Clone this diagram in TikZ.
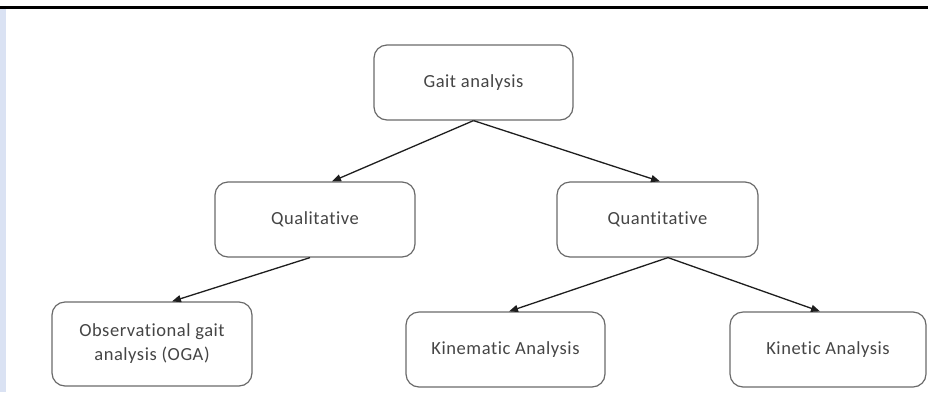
\documentclass[tikz,border=0pt]{standalone}
\usepackage{fontspec}
\setmainfont{Carlito}[RawFeature={-liga;-clig}, LetterSpace=3]
\usetikzlibrary{arrows.meta}
\definecolor{boxline}{HTML}{6A6A6A}
\definecolor{txt}{HTML}{454545}
\definecolor{strip}{HTML}{DAE2F3}
\definecolor{arr}{HTML}{1E1E1E}
\tikzset{
  box/.style={draw=boxline, line width=1.2pt, rounded corners=13pt, fill=white,
    inner sep=0pt, text=txt, align=center,
    font=\fontsize{18.5}{24}\selectfont},
  link/.style={draw=arr, line width=1.3pt, -{Triangle[length=9pt,width=7pt]}}
}
\begin{document}
\begin{tikzpicture}[x=1pt,y=-1pt]
\useasboundingbox (0,0) rectangle (928,392);
\fill[white] (0,0) rectangle (928,392);
\fill[strip] (0,9) rectangle (6,392);
\draw[line width=2.8pt, black] (0,7.5) -- (928,7.5);

\node[box, minimum width=199pt, minimum height=75pt] (gait) at (473.5,82.5) {Gait analysis};
\node[box, minimum width=200pt, minimum height=75pt] (qual) at (315,219.5) {Qualitative};
\node[box, minimum width=201pt, minimum height=75pt] (quant) at (657.5,219.5) {Quantitative};
\node[box, minimum width=200pt, minimum height=84pt] (oga) at (152,344) {Observational gait\\analysis (OGA)};
\node[box, minimum width=199pt, minimum height=75pt] (kinem) at (505.5,349.5) {Kinematic Analysis};
\node[box, minimum width=196pt, minimum height=75pt] (kinet) at (828,349.5) {Kinetic Analysis};

\draw[link] (gait.south) -- ([xshift=17pt]qual.north);
\draw[link] (gait.south) -- ([xshift=2.5pt]quant.north);
\draw[link] ([xshift=-5pt]qual.south) -- ([xshift=20pt]oga.north);
\draw[link] ([xshift=10.5pt]quant.south) -- ([xshift=3.5pt]kinem.north);
\draw[link] ([xshift=10.5pt]quant.south) -- ([xshift=-8pt]kinet.north);
\end{tikzpicture}
\end{document}
